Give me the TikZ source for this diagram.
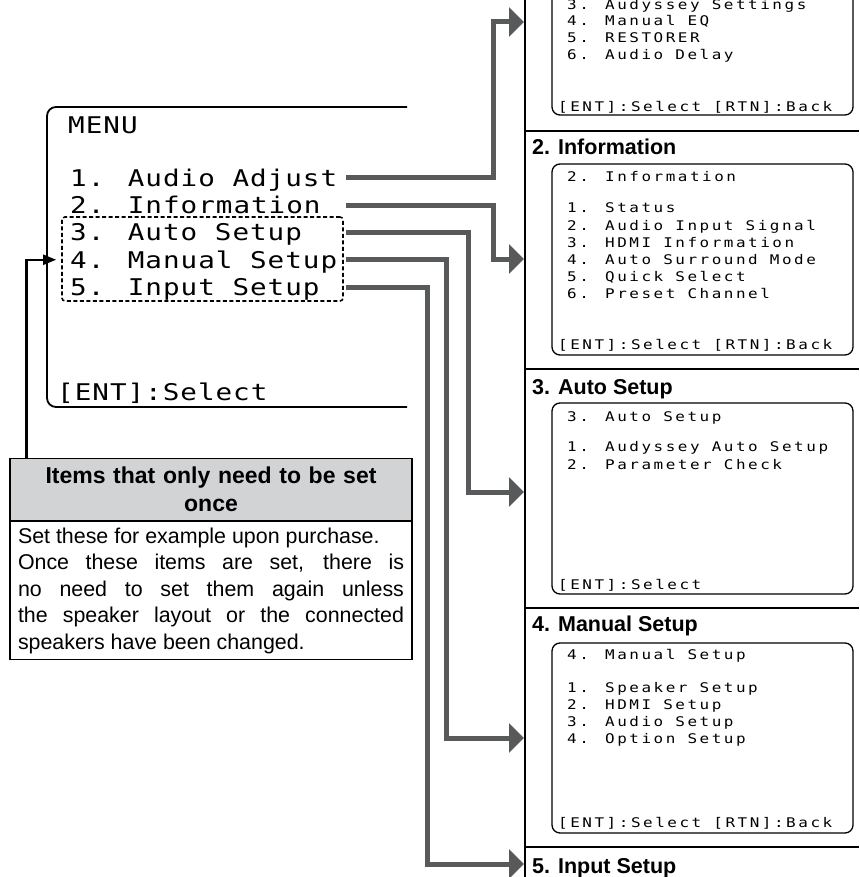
\documentclass[tikz,border=0pt]{standalone}
\usepackage{fontspec}
\setmainfont{Liberation Sans}
\newfontfamily\menufont[FakeStretch=1.2,LetterSpace=4.3]{DejaVu Sans Mono}
\newfontfamily\scrfont[FakeStretch=1.2,LetterSpace=19]{DejaVu Sans Mono}
\usepackage{xcolor}
\usetikzlibrary{positioning,arrows.meta,fit}
\definecolor{flowgray}{RGB}{88,89,91}
\definecolor{notegray}{RGB}{209,211,212}

\begin{document}
\begin{tikzpicture}[x=1pt,y=-1pt,
    menutext/.style={anchor=west,inner sep=0pt,text height=16.8pt,text depth=0pt,font=\menufont\fontsize{23}{27}\selectfont},
    scrtext/.style={anchor=west,inner sep=0pt,text height=9.7pt,text depth=0pt,font=\scrfont\fontsize{13.3}{17}\selectfont},
    hdr/.style={anchor=west,inner sep=0pt,text height=15.4pt,text depth=0pt,font=\bfseries\fontsize{21.5}{24}\selectfont},
    screen/.style={draw,rounded corners=8pt,line width=1.3pt,minimum width=301pt,inner sep=0pt},
    dashbox/.style={draw,dash pattern=on 4pt off 2.5pt,line width=1.6pt,rounded corners=3pt,inner sep=0pt},
    notehead/.style={draw,fill=notegray,line width=1.2pt,anchor=north,text width=386pt,inner xsep=8pt,inner ysep=0pt,minimum height=62pt,align=center,font=\bfseries\fontsize{23}{28}\selectfont},
    notebody/.style={draw,line width=1.2pt,text width=386pt,inner xsep=8pt,inner ysep=6pt,minimum height=137pt,align=justify,font=\fontsize{21.4}{26.5}\selectfont},
    flow/.style={flowgray,line width=5pt,-{Triangle[length=15pt,width=29pt]}},
    backarr/.style={line width=2.2pt,-{Triangle[length=13pt,width=10pt]},shorten >=5pt}]
  \useasboundingbox (0,0) rectangle (859,877);
  \clip (0,0) rectangle (859,877);

  % MENU screen
  \draw[line width=1.8pt,rounded corners=9pt] (407,107) -- (47,107) -- (47,407) -- (407,407);
  \node[menutext] (menu) at (68,125) {MENU};
  \foreach \t [count=\i] in {1. Audio Adjust,2. Information,3. Auto Setup,4. Manual Setup,5. Input Setup}
    \node[menutext] (item\i) at (70,{178+27.25*(\i-1)}) {\t};
  \node[menutext] (menuent) at (57,392) {[ENT]:Select};
  \node[dashbox,fit={(62,217) (343,301)}] (once) {};

  % right column
  \draw[line width=1.2pt] (525,0) -- (525,877);
  \foreach \y in {131,369,608,847}
    \draw[line width=1.2pt] (525,\y) -- (859,\y);

  % 1. Audio Adjust
  \node[screen,minimum height=186pt] (box1) at (702.5,22) {};
  \foreach \t [count=\k] in {3. Audyssey Settings,4. Manual EQ,5. RESTORER,6. Audio Delay}
    \node[scrtext] (adj\k) at (567,{4.5+16.6*(\k-1)}) {\t};
  \node[scrtext] (ent1) at (558,107) {[ENT]:Select [RTN]:Back};

  % 2. Information
  \node[hdr] (hdr2) at (532,147) {2. Information};
  \node[screen,minimum height=191pt] (box2) at (702.5,259.5) {};
  \node[scrtext] (ttl2) at (567,177) {2. Information};
  \foreach \t [count=\k] in {1. Status,2. Audio Input Signal,3. HDMI Information,4. Auto Surround Mode,5. Quick Select,6. Preset Channel}
    \node[scrtext] (inf\k) at (567,{208+17.2*(\k-1)}) {\t};
  \node[scrtext] (ent2) at (558,345) {[ENT]:Select [RTN]:Back};

  % 3. Auto Setup
  \node[hdr] (hdr3) at (532,387) {3. Auto Setup};
  \node[screen,minimum height=191pt] (box3) at (702.5,498.5) {};
  \node[scrtext] (ttl3) at (567,417) {3. Auto Setup};
  \foreach \t [count=\k] in {1. Audyssey Auto Setup,2. Parameter Check}
    \node[scrtext] (aut\k) at (567,{447+17.5*(\k-1)}) {\t};
  \node[scrtext] (ent3) at (558,585) {[ENT]:Select};

  % 4. Manual Setup
  \node[hdr] (hdr4) at (532,624) {4. Manual Setup};
  \node[screen,minimum height=190pt] (box4) at (702.5,738) {};
  \node[scrtext] (ttl4) at (567,655) {4. Manual Setup};
  \foreach \t [count=\k] in {1. Speaker Setup,2. HDMI Setup,3. Audio Setup,4. Option Setup}
    \node[scrtext] (man\k) at (567,{688+17*(\k-1)}) {\t};
  \node[scrtext] (ent4) at (558,823) {[ENT]:Select [RTN]:Back};

  % 5. Input Setup
  \node[hdr] (hdr5) at (532,866) {5. Input Setup};

  % menu items -> screens
  \foreach \i/\bx/\ty in {1/493/22,2/493/259,3/468/492,4/446/738,5/427/864} {
    \coordinate (bend\i) at (\bx,\ty);
    \coordinate (tip\i) at (524,\ty);
    \draw[flow] ([xshift=276pt]item\i.west) -| (bend\i) -- (tip\i);
  }

  % note
  \node[notehead] (notetitle) at (211,458) {Items that only need to be set\\once};
  \node[notebody,below=0pt of notetitle] (notetext) {Set these for example upon purchase.\\
    Once these items are set, there is\linebreak no need to set them again unless\linebreak
    the speaker layout or the connected\linebreak speakers have been changed.};
  \draw[backarr] ([xshift=17pt]notetitle.north west) |- (once.west |- item4.west);
\end{tikzpicture}
\end{document}
